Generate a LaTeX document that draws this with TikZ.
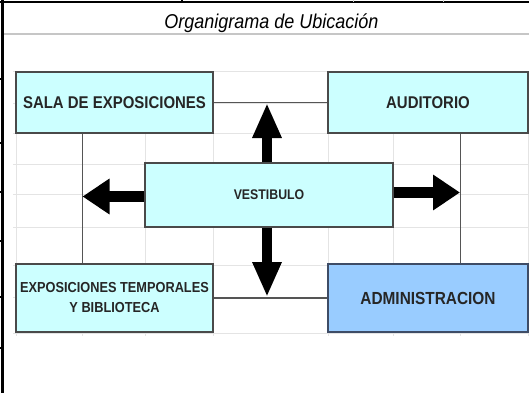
\documentclass[tikz,border=0pt]{standalone}
\usepackage{fontspec}
\setmainfont{Liberation Sans}
\newfontfamily\boxfont[FakeStretch=0.88]{Liberation Sans}
\newfontfamily\titlefont[FakeStretch=0.9]{Liberation Sans}
\usetikzlibrary{arrows.meta}
\definecolor{cyanfill}{HTML}{CCFFFF}
\definecolor{bluefill}{HTML}{99CCFF}
\definecolor{gridc}{HTML}{E4E4E4}
\definecolor{boxline}{HTML}{4A4A4A}
\definecolor{adminline}{HTML}{3E4C66}
\definecolor{connc}{HTML}{555555}
\begin{document}
\begin{tikzpicture}[x=1pt,y=-1pt,
  box/.style={draw=boxline, line width=1.4pt, fill=cyanfill, inner sep=0pt, align=center,
    font=\boxfont\bfseries\fontsize{17}{20}\selectfont, text=black!85},
  conn/.style={draw=connc, line width=1.3pt},
  gridline/.style={draw=gridc, line width=1pt},
  vbarrow/.style={draw=black, line width=10pt, -{Triangle[width=27pt,length=35pt]}},
  hbarrow/.style={draw=black, line width=11pt, -{Triangle[width=34pt,length=27pt]}}]
\useasboundingbox (0,0) rectangle (529,393);
\fill[white] (0,0) rectangle (529,393);
% spreadsheet grid
\foreach \yy in {72,103,133,164,194,227,265,297,333}
  \draw[gridline] (13,\yy) -- (529,\yy);
\foreach \xx in {16,82,145,213,328,393,460,528}
  \draw[gridline] (\xx,72) -- (\xx,336);
% sheet borders
\draw[gray!45, line width=1.2pt] (3,34) -- (529,34);
\draw[black, line width=2.3pt] (0,2) -- (529,2);
\draw[black, line width=2.3pt] (2.5,0) -- (2.5,393);
\draw[black, line width=2.5pt] (182,0) -- (182,3);
\draw[gray!40, line width=1pt] (353,0) -- (353,2) (443,0) -- (443,2);
\foreach \yy in {79,143,192,241,297,348}
  \draw[black, line width=1.5pt] (0,\yy) -- (3,\yy);
% title
\node[font=\titlefont\itshape\fontsize{20}{24}\selectfont, anchor=base, inner sep=0pt] (title) at (271.5,29) {Organigrama de Ubicación};
% boxes
\node[box, minimum width=197pt, minimum height=61pt] (sala) at (114.5,102.5) {SALA DE EXPOSICIONES};
\node[box, minimum width=200pt, minimum height=61pt] (aud) at (428,102.5) {AUDITORIO};
\node[box, minimum width=248pt, minimum height=64pt, font=\boxfont\bfseries\fontsize{14}{17}\selectfont] (vest) at (269,195) {VESTIBULO};
\node[box, minimum width=197pt, minimum height=68pt, font=\boxfont\bfseries\fontsize{14.5}{20}\selectfont] (expo) at (114.5,298) {EXPOSICIONES TEMPORALES\\Y BIBLIOTECA};
\node[box, fill=bluefill, draw=adminline, minimum width=200pt, minimum height=68pt, font=\boxfont\bfseries\fontsize{17.5}{20}\selectfont] (admin) at (428,298) {ADMINISTRACION};
% connectors
\coordinate (lx) at (82.3,0);
\coordinate (rx) at (460.6,0);
\draw[conn] (sala.east) -- (aud.west);
\draw[conn] (expo.east) -- (admin.west);
\draw[conn] (sala.south -| lx) -- (expo.north -| lx);
\draw[conn] (aud.south -| rx) -- (admin.north -| rx);
% block arrows
\coordinate (upTip) at (267,103);
\coordinate (downTip) at (267,297);
\coordinate (leftTip) at (82.5,196.5);
\coordinate (rightTip) at (460,192.5);
\draw[vbarrow] (vest.north -| upTip) -- (upTip);
\draw[vbarrow] (vest.south -| downTip) -- (downTip);
\draw[hbarrow] (vest.west |- leftTip) -- (leftTip);
\draw[hbarrow] (vest.east |- rightTip) -- (rightTip);
\end{tikzpicture}
\end{document}
